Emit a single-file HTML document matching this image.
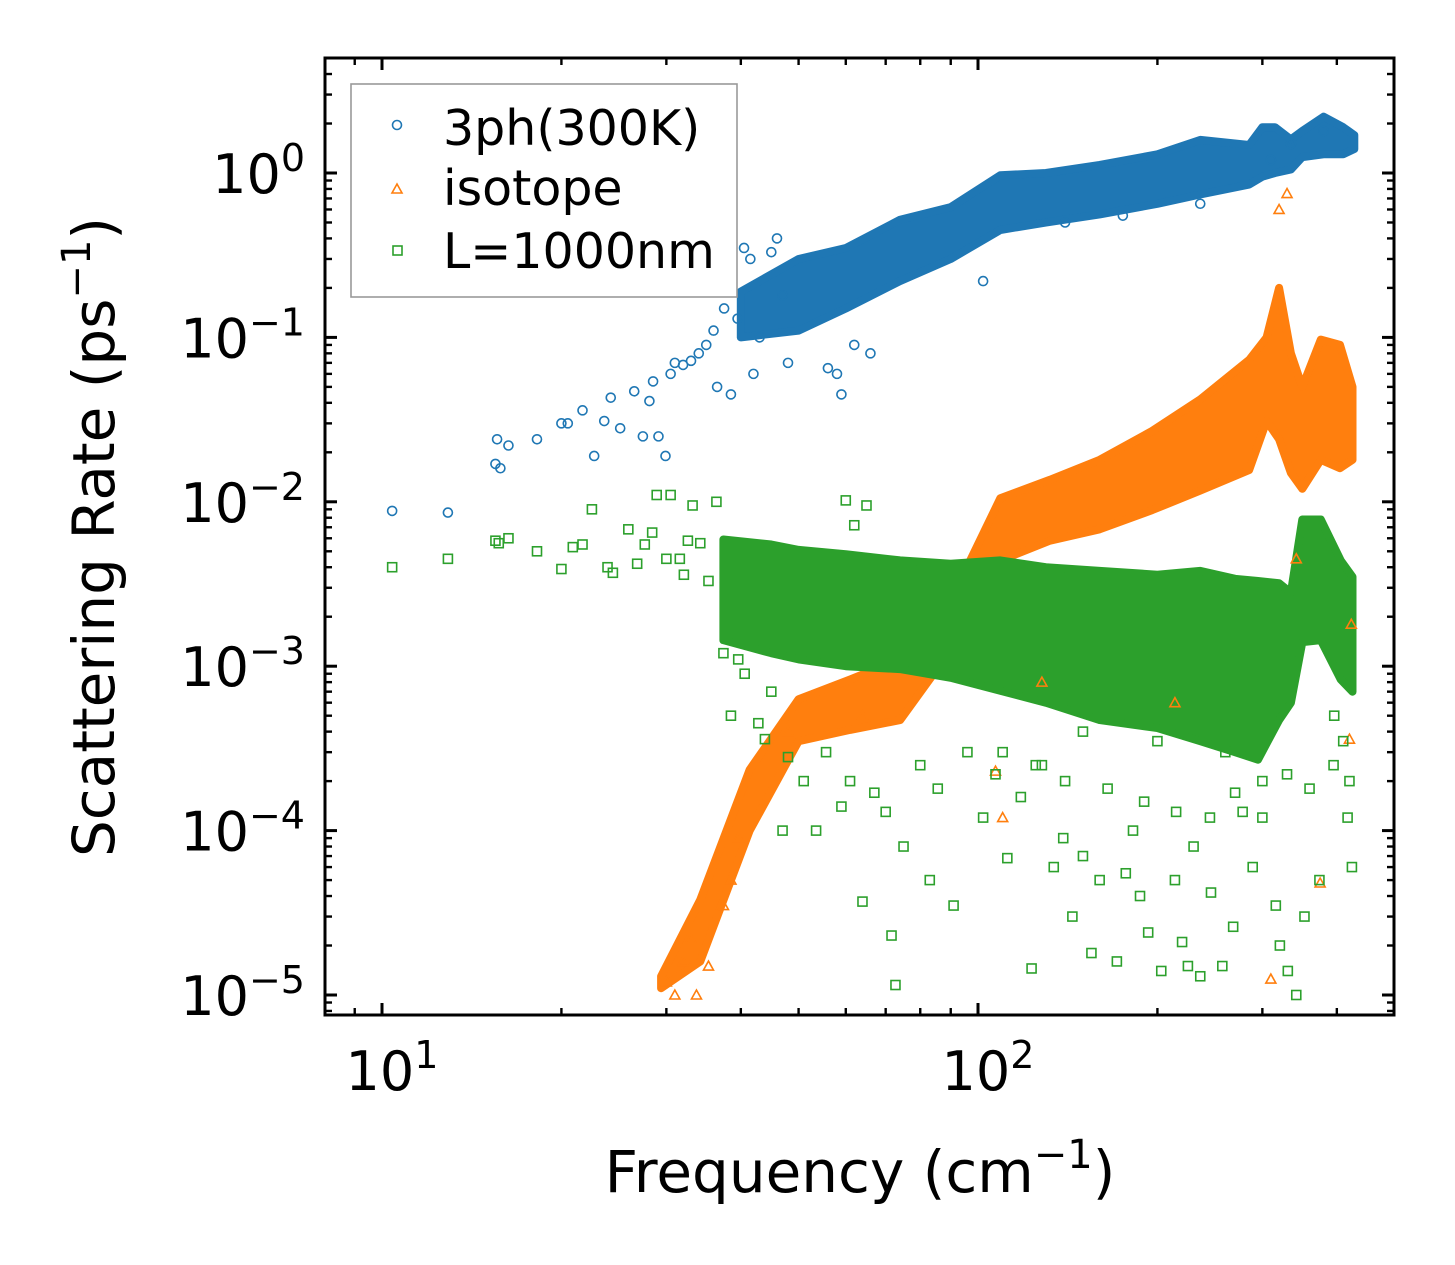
<!DOCTYPE html>
<html><head><meta charset="utf-8"><style>
html,body{margin:0;padding:0;background:#fff;}
svg{display:block;font-family:"DejaVu Sans","Liberation Sans",sans-serif;}
</style></head><body>
<svg id="chart" width="1455" height="1265" viewBox="0 0 1455 1265">
<g id="bands"></g>
<g id="points"></g>
<g id="axes"></g>
<g id="legend">
<rect x="351" y="84" width="386" height="213" fill="#fff" fill-opacity="0.8" stroke="#999" stroke-width="1.6"/>
<circle cx="397" cy="125" r="4.5" fill="none" stroke="#1f77b4" stroke-width="1.6"/>
<text x="443" y="145" font-size="49">3ph(300K)</text>
<polygon points="397,184 402,193 392,193" fill="none" stroke="#ff7f0e" stroke-width="1.6"/>
<text x="443" y="205" font-size="49">isotope</text>
<rect x="393" y="246" width="9" height="9" fill="none" stroke="#2ca02c" stroke-width="1.6"/>
<text x="443" y="268" font-size="49">L=1000nm</text>
</g>
<text x="860" y="1192" font-size="58" text-anchor="middle">Frequency (cm<tspan font-size="40" dy="-24">−1</tspan><tspan dy="24">)</tspan></text>
<text transform="translate(114,537) rotate(-90)" font-size="58" text-anchor="middle">Scattering Rate (ps<tspan font-size="40" dy="-24">−1</tspan><tspan dy="24">)</tspan></text>
</svg>
<script>
// dense envelope data: frequency, lower rate, upper rate
const bandFreq3ph=[40,50,60,74,90,109,130,160,200,236,285,300,315,335,350,380,410,428];
const bandLo3ph=[0.10,0.11,0.15,0.22,0.30,0.45,0.50,0.56,0.65,0.74,0.85,0.95,1.0,1.05,1.25,1.3,1.3,1.4];
const bandHi3ph=[0.19,0.30,0.35,0.52,0.62,0.97,1.0,1.12,1.3,1.59,1.48,1.9,1.9,1.6,1.8,2.2,1.9,1.7];
const bandFreqIso=[29.4,34.2,41.4,50,61,74,90,109,132,160,196,236,285,305,320,335,350,376,405,425];
const bandLoIso=[1.1e-5,1.6e-5,1.0e-4,3.5e-4,4.1e-4,4.7e-4,1.25e-3,4.4e-3,5.8e-3,6.8e-3,8.9e-3,1.17e-2,1.56e-2,3.1e-2,2.4e-2,1.5e-2,1.2e-2,1.8e-2,1.6e-2,1.8e-2];
const bandHiIso=[1.3e-5,3.8e-5,2.35e-4,6.3e-4,8.3e-4,1.1e-3,2.5e-3,1.05e-2,1.36e-2,1.8e-2,2.7e-2,4.2e-2,7.3e-2,0.1,0.2,0.08,0.05,0.097,0.09,0.05];
const bandFreqL=[37.4,45,50,60,74,90,109,130,160,200,236,270,295,320,335,350,376,406,425];
const bandLoL=[1.44e-3,1.2e-3,1.1e-3,1.0e-3,9.6e-4,8.5e-4,7.1e-4,6e-4,4.7e-4,4.2e-4,3.5e-4,3e-4,2.7e-4,4.7e-4,6e-4,1.4e-3,1.44e-3,8.3e-4,7e-4];
const bandHiL=[5.9e-3,5.5e-3,5.1e-3,4.8e-3,4.4e-3,4.2e-3,4.4e-3,4.0e-3,3.8e-3,3.6e-3,3.8e-3,3.4e-3,3.3e-3,3.2e-3,2.8e-3,7.8e-3,7.8e-3,4.4e-3,3.5e-3];
// individual points
const freq3ph=[10.4,12.9,15.5,15.6,15.8,16.3,18.2,20,20.5,21.7,22.7,23.6,24.2,25.1,26.5,27.4,28.1,28.5,29.1,29.9,30.5,31,32,33,34,35,36,36.5,37.5,38.5,39.5,40.5,41.5,43,45,46,47,42,48,56,58,59,62,66,102,140,175,236,310,335,380];
const rate3ph=[0.0088,0.0086,0.017,0.024,0.016,0.022,0.024,0.030,0.030,0.036,0.019,0.031,0.043,0.028,0.047,0.025,0.041,0.054,0.025,0.019,0.06,0.07,0.068,0.072,0.08,0.09,0.11,0.05,0.15,0.045,0.13,0.35,0.30,0.10,0.33,0.40,0.18,0.06,0.07,0.065,0.06,0.045,0.09,0.08,0.22,0.5,0.55,0.65,1.2,1.5,1.8];
const freqIso=[30,31,32,33,33.7,35.3,37.4,38.5,39.6,48,64,107,110,128,214,310,320,330,342,375,420,423];
const rateIso=[1.2e-5,1.0e-5,1.6e-5,2.2e-5,1.0e-5,1.5e-5,3.5e-5,5e-5,9e-5,4e-4,5e-4,2.3e-4,1.2e-4,8e-4,6e-4,1.25e-5,0.6,0.75,4.5e-3,4.8e-5,3.6e-4,1.8e-3];
const freqL=[10.4,12.9,15.5,15.7,16.3,18.2,20,20.9,21.7,22.5,23.9,24.4,25.9,26.8,27.6,28.4,28.9,30,30.5,31.6,32.1,32.6,33.2,34.2,35.3,36.4,37.4,38.5,39.6,40.6,42.8,43.9,45,47,48,51,53.5,55.6,59,61,62,64,60,67,70,71.6,65,72.7,75,80,83,85.6,91,96,102,107,112,118,123,128,134,139,144,150,155,160,171,177,182,187,193,203,214,220,225,230,236,246,257,268,278,289,300,316,321,331,342,353,374,396,417,420,424,110,125,140,165,190,215,245,270,300,330,360,395,410,150,200,260];
const rateL=[0.004,0.0045,0.0058,0.0056,0.006,0.005,0.0039,0.0053,0.0055,0.009,0.004,0.0037,0.0068,0.0042,0.0055,0.0065,0.011,0.0045,0.011,0.0045,0.0036,0.0058,0.0095,0.0056,0.0033,0.01,0.0012,0.0005,0.0011,0.0009,0.00045,0.00036,0.0007,0.0001,0.00028,0.0002,0.0001,0.0003,0.00014,0.0002,0.0072,0.000037,0.0102,0.00017,0.00013,0.000023,0.0095,0.0000115,0.00008,0.00025,0.00005,0.00018,0.000035,0.0003,0.00012,0.00022,0.000068,0.00016,0.0000145,0.00025,0.00006,0.00009,0.00003,0.00007,0.000018,0.00005,0.000016,0.000055,0.0001,0.00004,0.000024,0.000014,0.00005,0.000021,0.000015,0.00008,0.000013,0.000042,0.000015,0.000026,0.00013,0.00006,0.00012,0.000035,0.00002,0.000014,0.00001,0.00003,0.00005,0.0005,0.00012,0.0002,0.00006,0.0003,0.00025,0.0002,0.00018,0.00015,0.00013,0.00012,0.00017,0.0002,0.00022,0.00018,0.00025,0.00035,0.0004,0.00035,0.0003];
const xTickVals=[10,100];
const xTickExp=['1','2'];
const yTickVals=[1e-5,1e-4,1e-3,1e-2,1e-1,1];
const yTickExp=['−5','−4','−3','−2','−1','0'];

const NS='http://www.w3.org/2000/svg';
const L=325,R=1394,T=58,B=1015;
function xs(f){return 382+(Math.log10(f)-1)*596;}
function ys(r){return 173-Math.log10(r)*164.4;}
function mk(tag,attrs,parent){const e=document.createElementNS(NS,tag);for(const k in attrs)e.setAttribute(k,attrs[k]);parent.appendChild(e);return e;}
const bands=document.getElementById('bands');
const pts=document.getElementById('points');
const axes=document.getElementById('axes');

function band(fr,lo,hi,color,name){
  let d='';
  for(let i=0;i<fr.length;i++)d+=(i?'L':'M')+xs(fr[i]).toFixed(1)+','+ys(hi[i]).toFixed(1);
  for(let i=fr.length-1;i>=0;i--)d+='L'+xs(fr[i]).toFixed(1)+','+ys(lo[i]).toFixed(1);
  const p=mk('path',{d:d+'Z',fill:color,stroke:color,'stroke-width':'8','stroke-linejoin':'round'},bands);
  
  
}
band(bandFreq3ph,bandLo3ph,bandHi3ph,'#1f77b4','band-3ph');
band(bandFreqIso,bandLoIso,bandHiIso,'#ff7f0e','band-isotope');
band(bandFreqL,bandLoL,bandHiL,'#2ca02c','band-boundary');

for(let i=0;i<freq3ph.length;i++){
  const c=mk('circle',{cx:xs(freq3ph[i]),cy:ys(rate3ph[i]),r:4.5,fill:'none',stroke:'#1f77b4','stroke-width':1.6},pts);
  
  
}
for(let i=0;i<freqIso.length;i++){
  const x=xs(freqIso[i]),y=ys(rateIso[i]);
  const c=mk('polygon',{points:`${x},${y-5} ${x+5},${y+4} ${x-5},${y+4}`,fill:'none',stroke:'#ff7f0e','stroke-width':1.6},pts);
  
  
}
for(let i=0;i<freqL.length;i++){
  const c=mk('rect',{x:xs(freqL[i])-4.5,y:ys(rateL[i])-4.5,width:9,height:9,fill:'none',stroke:'#2ca02c','stroke-width':1.6},pts);
  
  
}

// white cover outside frame
mk('path',{d:`M0,0H1455V1265H0Z M${L},${T}V${B}H${R}V${T}Z`,fill:'#fff','fill-rule':'evenodd'},axes);
const frame=mk('rect',{x:L,y:T,width:R-L,height:B-T,fill:'none',stroke:'#000','stroke-width':3},axes);



function tick(x1,y1,x2,y2,w){mk('line',{x1,y1,x2,y2,stroke:'#000','stroke-width':w},axes);}
for(let dec=0;dec<=2;dec++){
  for(let m=1;m<=9;m++){
    const f=m*Math.pow(10,dec);
    const x=xs(f);
    if(x<L+1||x>R-1)continue;
    const len=m===1?12:7,w=m===1?3:2.4;
    tick(x,B,x,B-len,w);tick(x,T,x,T+len,w);
  }
}
for(let i=0;i<xTickVals.length;i++){
  const t=mk('text',{x:xs(xTickVals[i])+10,y:1090,'font-size':54,'text-anchor':'middle'},axes);
  
  
  t.innerHTML='10<tspan font-size="38" dy="-22">'+xTickExp[i]+'</tspan>';
}
for(let dec=-6;dec<=0;dec++){
  for(let m=1;m<=9;m++){
    const r=m*Math.pow(10,dec);
    const y=ys(r);
    if(y<T+1||y>B-1)continue;
    const len=m===1?12:7,w=m===1?3:2.4;
    tick(L,y,L+len,y,w);tick(R,y,R-len,y,w);
  }
}
for(let i=0;i<yTickVals.length;i++){
  const t=mk('text',{x:305,y:ys(yTickVals[i])+20,'font-size':54,'text-anchor':'end'},axes);
  
  
  t.innerHTML='10<tspan font-size="38" dy="-22">'+yTickExp[i]+'</tspan>';
}
</script>
</body></html>
